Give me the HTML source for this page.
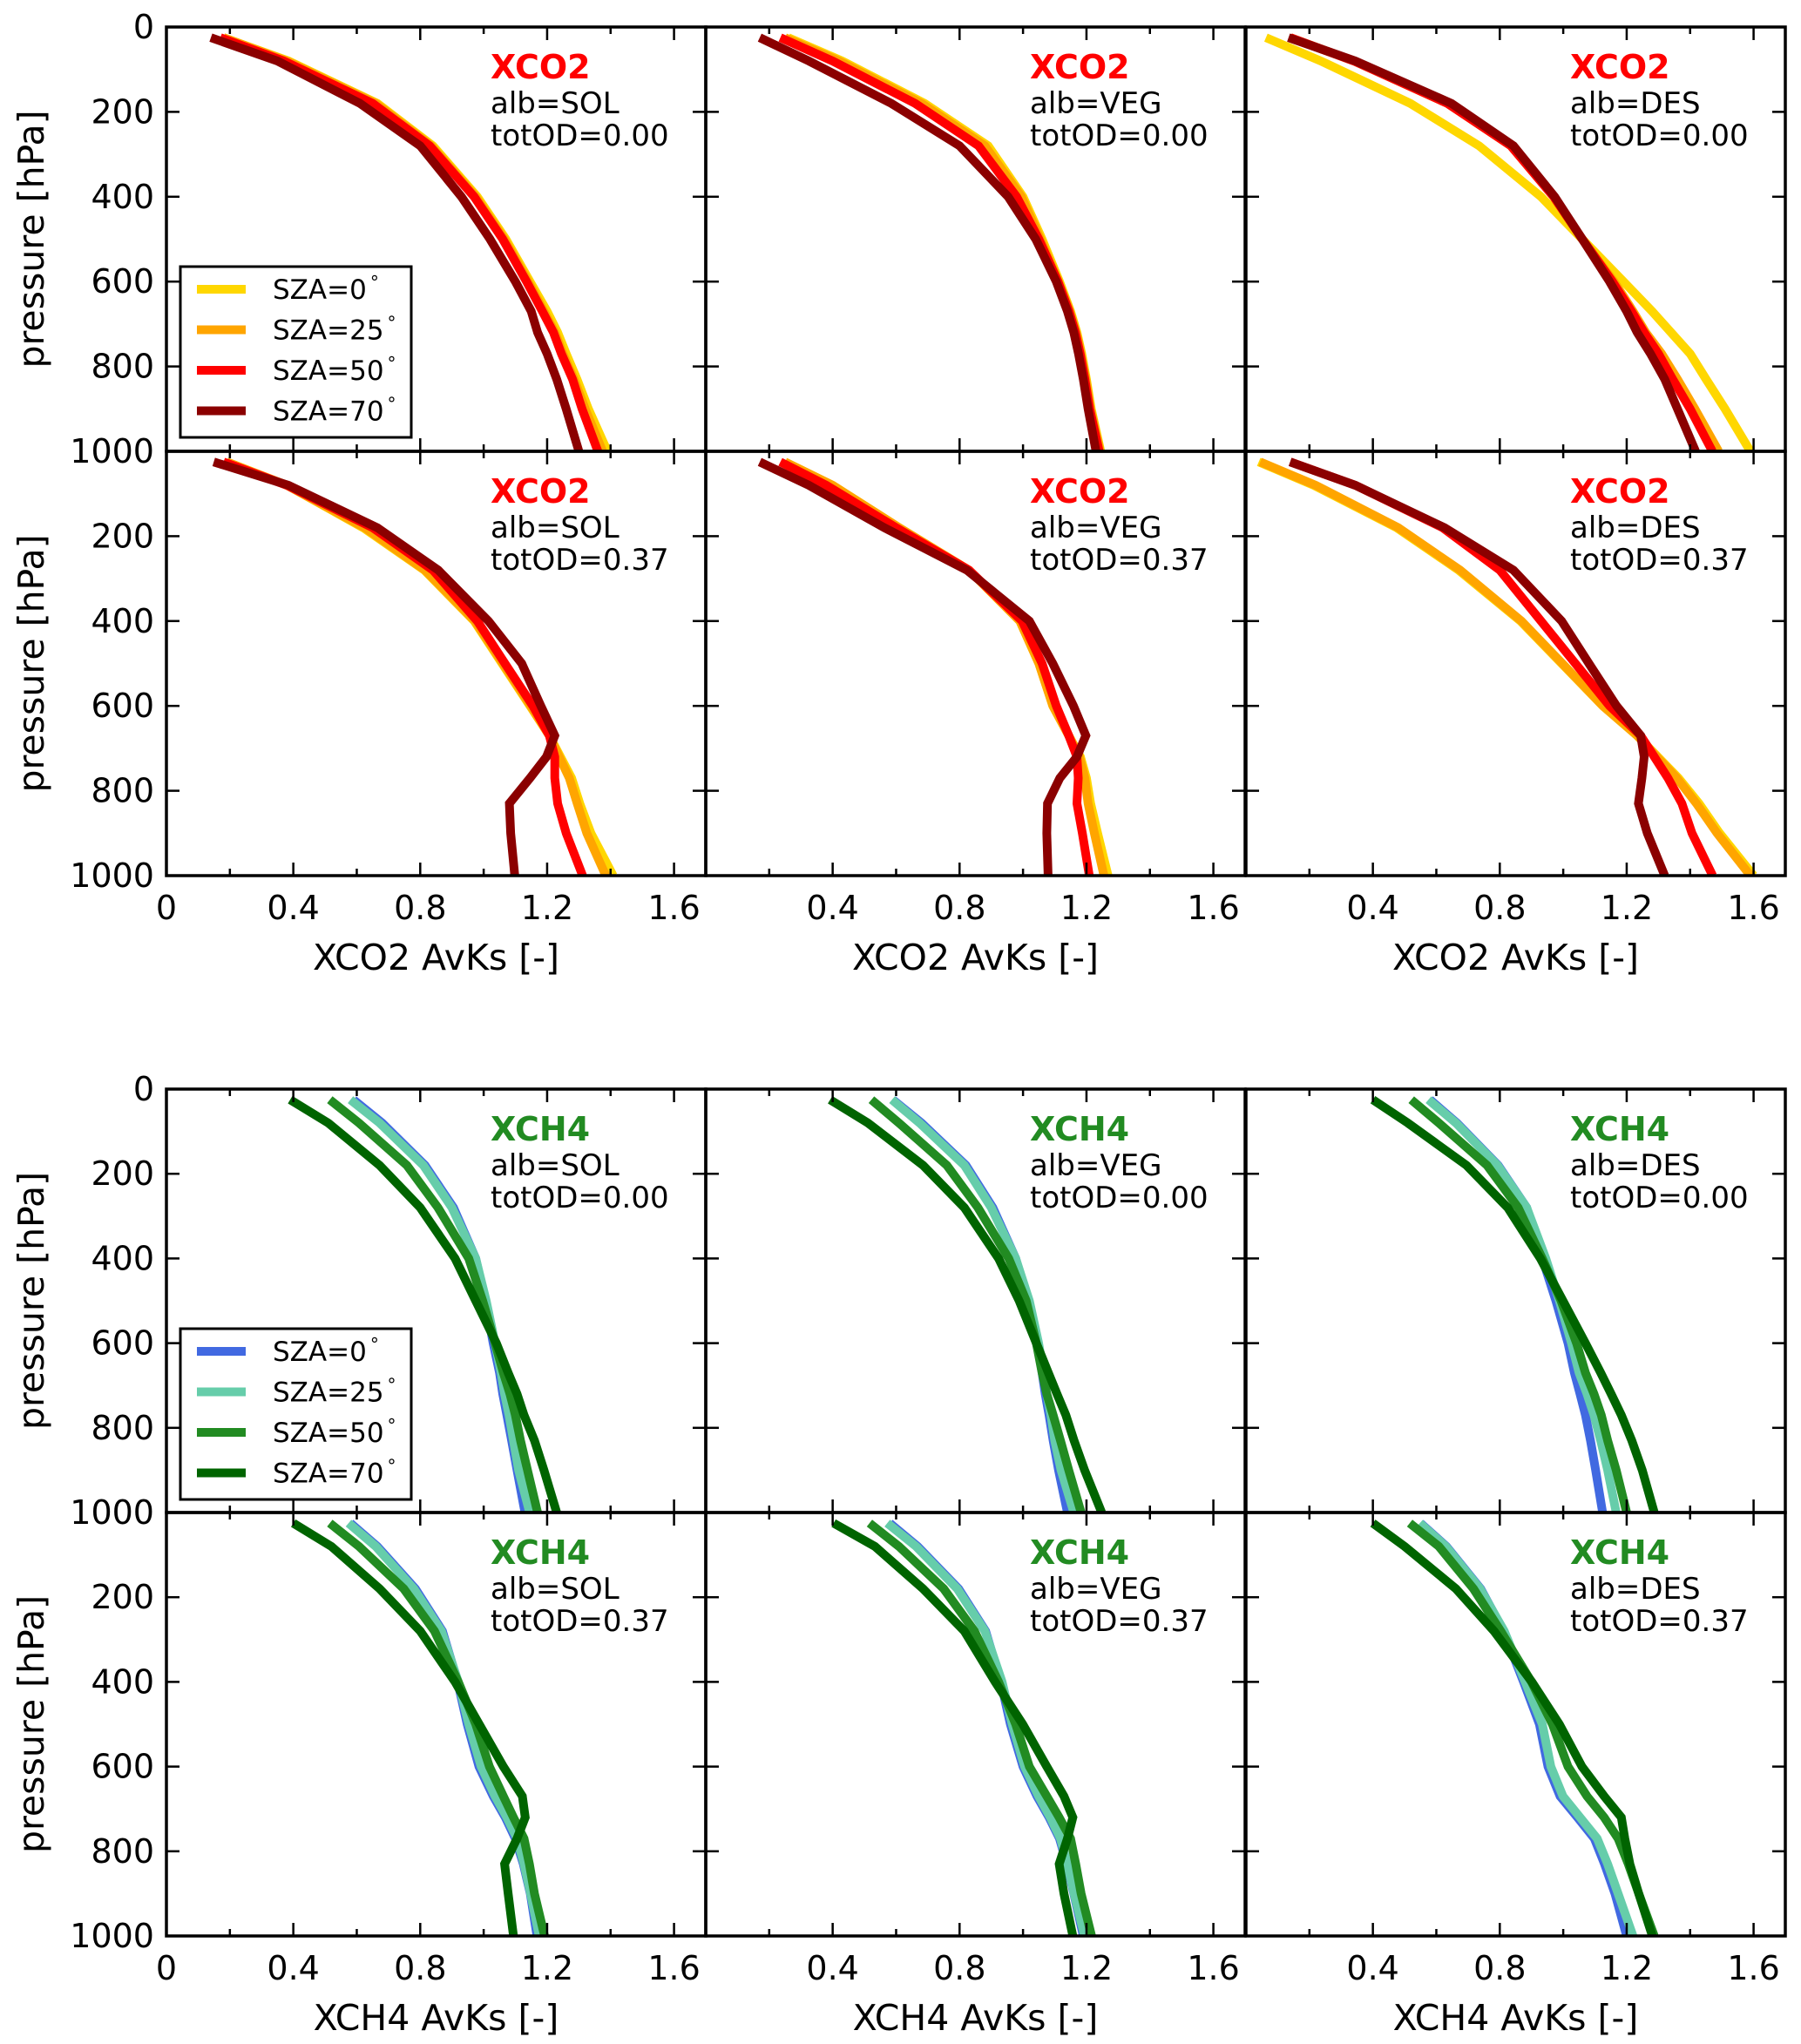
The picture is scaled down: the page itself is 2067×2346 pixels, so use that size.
<!DOCTYPE html>
<html><head><meta charset="utf-8"><style>
html,body{margin:0;padding:0;background:#fff;}
svg{display:block;}
text{font-family:"DejaVu Sans","Liberation Sans",sans-serif;}
</style></head><body>
<svg id="fig" xmlns="http://www.w3.org/2000/svg" width="2067" height="2346" viewBox="0 0 2067 2346"></svg>
<script>
// ---------- data ----------
const pressureLevels = [25,80,180,280,400,500,600,670,720,770,830,900,1000];
const szaLabels = ["SZA=0","SZA=25","SZA=50","SZA=70"];
const albedos = ["SOL","VEG","DES"];
const aods = ["0.00","0.37"];
const xTicks = [0,0.4,0.8,1.2,1.6];
const yTicks = [0,200,400,600,800,1000];

// XCO2, order: SZA0, SZA25, SZA50, SZA70
const co2_SOL_000 = [
 [0.18,0.385,0.665,0.84,0.98,1.07,1.146,1.20,1.233,1.26,1.294,1.33,1.39],
 [0.18,0.38,0.66,0.835,0.975,1.065,1.14,1.19,1.225,1.25,1.285,1.32,1.375],
 [0.17,0.37,0.65,0.83,0.97,1.06,1.135,1.185,1.22,1.245,1.28,1.31,1.36],
 [0.14,0.35,0.61,0.80,0.93,1.02,1.10,1.15,1.17,1.20,1.23,1.26,1.30]];
const co2_VEG_000 = [
 [0.26,0.43,0.69,0.89,1.0,1.06,1.115,1.15,1.17,1.185,1.20,1.215,1.245],
 [0.25,0.42,0.68,0.88,0.995,1.055,1.112,1.148,1.168,1.183,1.198,1.213,1.243],
 [0.235,0.40,0.66,0.86,0.98,1.05,1.11,1.145,1.165,1.18,1.195,1.21,1.24],
 [0.17,0.325,0.585,0.80,0.953,1.04,1.105,1.14,1.16,1.175,1.19,1.205,1.23]];
const co2_DES_000 = [
 [0.063,0.236,0.518,0.735,0.93,1.06,1.19,1.28,1.34,1.40,1.45,1.51,1.59],
 [0.14,0.34,0.635,0.835,0.97,1.06,1.16,1.22,1.26,1.31,1.36,1.415,1.49],
 [0.14,0.34,0.635,0.835,0.97,1.06,1.155,1.215,1.255,1.30,1.345,1.40,1.47],
 [0.134,0.345,0.648,0.843,0.973,1.06,1.146,1.20,1.233,1.275,1.32,1.36,1.417]];
const co2_SOL_037 = [
 [0.19,0.38,0.62,0.813,0.97,1.058,1.146,1.207,1.242,1.277,1.303,1.338,1.408],
 [0.19,0.38,0.625,0.815,0.972,1.06,1.148,1.207,1.238,1.27,1.295,1.325,1.385],
 [0.18,0.38,0.65,0.84,0.98,1.067,1.155,1.207,1.224,1.224,1.233,1.26,1.312],
 [0.149,0.385,0.665,0.857,1.015,1.12,1.18,1.224,1.198,1.146,1.081,1.085,1.098]];
const co2_VEG_037 = [
 [0.25,0.40,0.61,0.83,0.99,1.05,1.094,1.144,1.181,1.20,1.213,1.235,1.268],
 [0.25,0.40,0.61,0.83,0.99,1.05,1.094,1.144,1.178,1.195,1.205,1.225,1.255],
 [0.235,0.38,0.60,0.83,0.997,1.06,1.105,1.144,1.17,1.174,1.17,1.187,1.209],
 [0.17,0.325,0.563,0.823,1.02,1.094,1.159,1.198,1.17,1.116,1.077,1.075,1.079]];
const co2_DES_037 = [
 [0.04,0.214,0.475,0.67,0.865,0.995,1.125,1.233,1.298,1.363,1.428,1.493,1.60],
 [0.045,0.22,0.48,0.675,0.868,0.997,1.125,1.233,1.295,1.358,1.42,1.485,1.59],
 [0.14,0.345,0.62,0.80,0.93,1.038,1.146,1.244,1.287,1.33,1.374,1.406,1.471],
 [0.139,0.345,0.626,0.843,0.995,1.081,1.168,1.244,1.255,1.248,1.237,1.265,1.32]];
// XCH4
const ch4_SOL_000 = [
 [0.59,0.68,0.815,0.905,0.975,1.005,1.03,1.05,1.06,1.073,1.088,1.105,1.13],
 [0.58,0.672,0.81,0.90,0.975,1.008,1.036,1.055,1.066,1.08,1.094,1.11,1.145],
 [0.515,0.607,0.758,0.856,0.953,0.997,1.036,1.062,1.083,1.10,1.116,1.138,1.17],
 [0.39,0.51,0.672,0.80,0.91,0.975,1.04,1.077,1.105,1.127,1.16,1.19,1.23]];
const ch4_VEG_000 = [
 [0.59,0.68,0.82,0.905,0.977,1.015,1.045,1.06,1.07,1.082,1.095,1.112,1.14],
 [0.587,0.674,0.815,0.90,0.977,1.02,1.049,1.065,1.075,1.088,1.10,1.12,1.16],
 [0.522,0.609,0.76,0.858,0.955,1.01,1.042,1.06,1.075,1.095,1.118,1.144,1.183],
 [0.392,0.511,0.685,0.815,0.923,0.988,1.042,1.08,1.107,1.135,1.161,1.194,1.248]];
const ch4_DES_000 = [
 [0.58,0.665,0.795,0.885,0.934,0.977,1.015,1.035,1.053,1.07,1.086,1.102,1.124],
 [0.575,0.662,0.793,0.885,0.945,0.988,1.026,1.05,1.075,1.097,1.118,1.14,1.167],
 [0.521,0.608,0.76,0.858,0.934,0.993,1.042,1.07,1.097,1.12,1.14,1.167,1.2],
 [0.40,0.51,0.695,0.825,0.928,0.999,1.07,1.118,1.151,1.183,1.216,1.249,1.287]];
const ch4_SOL_037 = [
 [0.58,0.665,0.785,0.87,0.918,0.948,0.985,1.03,1.068,1.10,1.125,1.147,1.168],
 [0.574,0.66,0.78,0.867,0.92,0.953,0.992,1.036,1.073,1.105,1.127,1.148,1.175],
 [0.515,0.607,0.748,0.845,0.92,0.975,1.018,1.062,1.094,1.127,1.144,1.16,1.192],
 [0.40,0.52,0.672,0.80,0.91,0.986,1.062,1.122,1.131,1.105,1.066,1.077,1.094]];
const ch4_VEG_037 = [
 [0.58,0.668,0.797,0.882,0.93,0.96,1.0,1.044,1.082,1.115,1.138,1.16,1.19],
 [0.572,0.663,0.793,0.88,0.934,0.966,1.005,1.049,1.086,1.118,1.14,1.161,1.194],
 [0.516,0.609,0.75,0.847,0.923,0.977,1.02,1.075,1.114,1.15,1.166,1.183,1.216],
 [0.403,0.533,0.685,0.815,0.912,0.999,1.075,1.129,1.157,1.14,1.114,1.129,1.157]];
const ch4_DES_037 = [
 [0.55,0.632,0.74,0.812,0.875,0.925,0.952,0.99,1.045,1.098,1.13,1.163,1.2],
 [0.548,0.63,0.738,0.814,0.88,0.934,0.961,0.999,1.053,1.107,1.14,1.173,1.22],
 [0.516,0.608,0.717,0.803,0.9,0.966,1.015,1.075,1.129,1.173,1.205,1.238,1.287],
 [0.40,0.50,0.662,0.782,0.901,0.988,1.059,1.129,1.183,1.194,1.21,1.238,1.281]];

const co2Data = [[co2_SOL_000,co2_VEG_000,co2_DES_000],[co2_SOL_037,co2_VEG_037,co2_DES_037]];
const ch4Data = [[ch4_SOL_000,ch4_VEG_000,ch4_DES_000],[ch4_SOL_037,ch4_VEG_037,ch4_DES_037]];

// ---------- layout ----------
const NS = "http://www.w3.org/2000/svg";
const svg = document.getElementById("fig");
const colX = [191,810,1430];
const panelW = 619;
const XMAX = 1.7;
function el(tag, attrs, parent){
  const e = document.createElementNS(NS, tag);
  for (const k in attrs) e.setAttribute(k, attrs[k]);
  (parent||svg).appendChild(e);
  return e;
}
const blocks = [
  {gas:"XCO2", top:31, rowH:487, data:co2Data, colors:["#FFD700","#FFA500","#FF0000","#8B0000"], tcol:"#FF0000"},
  {gas:"XCH4", top:1250, rowH:486, data:ch4Data, colors:["#4169E1","#66CDAA","#228B22","#006400"], tcol:"#228B22"}
];

blocks.forEach((b, bi) => {
  const g = el("g", {});
  
  
  for (let r = 0; r < 2; r++) {
    const y0 = b.top + r*b.rowH;
    // y-axis title
    const yc = y0 + b.rowH/2;
    const yt = el("text", {x:0, y:0, transform:`translate(50,${yc}) rotate(-90)`, "text-anchor":"middle", "font-size":41, fill:"#000"}, g);
    yt.textContent = "pressure [hPa]";
    
    
    for (let c = 0; c < 3; c++) {
      const x0 = colX[c];
      const sx = v => x0 + v/XMAX*panelW;
      const sy = p => y0 + p/1000*b.rowH;
      const pg = el("g", {}, g);
      
      
      const cid = `clip${bi}${r}${c}`;
      const cp = el("clipPath", {id:cid}, pg);
      el("rect", {x:x0, y:y0, width:panelW, height:b.rowH}, cp);
      // series
      const series = b.data[r][c];
      series.forEach((vals, si) => {
        const pts = vals.map((v,i) => `${sx(v).toFixed(1)},${sy(pressureLevels[i]).toFixed(1)}`).join(" ");
        const pl = el("polyline", {points:pts, fill:"none", stroke:b.colors[si], "stroke-width":10, "stroke-linejoin":"miter", "clip-path":`url(#${cid})`}, pg);
        
        
      });
      // ticks
      for (let k = 1; k <= 8; k++) {
        const v = k*0.2, X = sx(v), len = (k%2===0) ? 15 : 8;
        el("line", {x1:X, y1:y0+b.rowH, x2:X, y2:y0+b.rowH-len, stroke:"#000", "stroke-width":2.5}, pg);
        el("line", {x1:X, y1:y0, x2:X, y2:y0+len, stroke:"#000", "stroke-width":2.5}, pg);
      }
      yTicks.forEach(p => {
        if (p===0 || p===1000) return;
        const Y = sy(p);
        el("line", {x1:x0, y1:Y, x2:x0+15, y2:Y, stroke:"#000", "stroke-width":2.5}, pg);
        el("line", {x1:x0+panelW, y1:Y, x2:x0+panelW-15, y2:Y, stroke:"#000", "stroke-width":2.5}, pg);
      });
      // frame
      const fr = el("rect", {x:x0, y:y0, width:panelW, height:b.rowH, fill:"none", stroke:"#000", "stroke-width":3.5}, pg);
      
      
      // annotation
      const ax = x0 + 372;
      const t1 = el("text", {x:ax, y:y0+59, "font-size":38, "font-weight":"bold", fill:b.tcol}, pg);
      t1.textContent = b.gas;
      
      
      const t2 = el("text", {x:ax, y:y0+99, "font-size":34, fill:"#000"}, pg);
      t2.textContent = "alb=" + albedos[c];
      
      
      const t3 = el("text", {x:ax, y:y0+136, "font-size":34, fill:"#000"}, pg);
      t3.textContent = "totOD=" + aods[r];
      
      
      // y tick labels
      if (c === 0) {
        yTicks.forEach(p => {
          if (r===1 && p===0) return;
          const tl = el("text", {x:177, y:sy(p)+13, "text-anchor":"end", "font-size":38, fill:"#000"}, pg);
          tl.textContent = String(p);
          
          
        });
      }
      // x tick labels and title (bottom row only)
      if (r === 1) {
        xTicks.forEach(v => {
          if (c>0 && v===0) return;
          const tl = el("text", {x:sx(v), y:y0+b.rowH+50, "text-anchor":"middle", "font-size":38, fill:"#000"}, pg);
          tl.textContent = String(v);
          
          
        });
        const xt = el("text", {x:x0+panelW/2, y:y0+b.rowH+108, "text-anchor":"middle", "font-size":41, fill:"#000"}, pg);
        xt.textContent = b.gas + " AvKs [-]";
        
        
      }
      // legend
      if (r===0 && c===0) {
        const lg = el("g", {}, pg);
        
        
        el("rect", {x:207, y:y0+275, width:265, height:196, fill:"#fff", stroke:"#000", "stroke-width":3}, lg);
        szaLabels.forEach((s, si) => {
          const ly = y0 + 301 + si*46.5;
          const ent = el("g", {}, lg);
          
          
          el("line", {x1:226, y1:ly, x2:282, y2:ly, stroke:b.colors[si], "stroke-width":10}, ent);
          const lt = el("text", {x:313, y:ly+11, "font-size":31, fill:"#000"}, ent);
          lt.textContent = s;
          const dg = el("tspan", {dx:4, dy:-12, "font-size":20}, lt);
          dg.textContent = "\u00B0";
        });
      }
    }
  }
});
</script>
</body></html>
